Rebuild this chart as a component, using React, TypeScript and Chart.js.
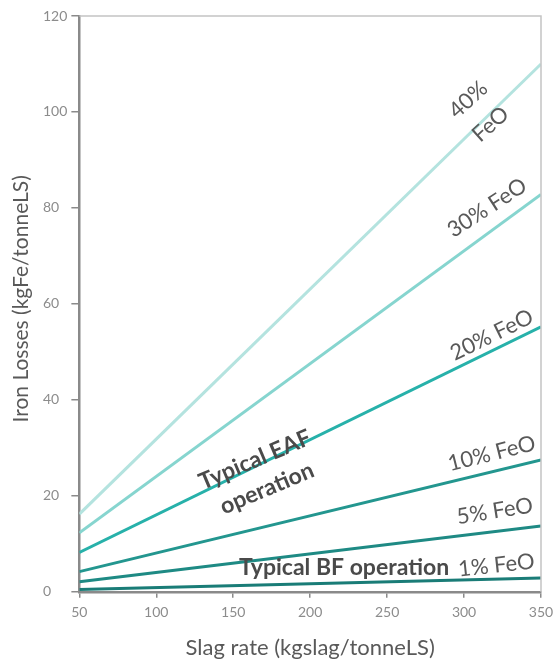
import React, { useEffect, useRef } from "react";
import { Chart, registerables } from "chart.js";

Chart.register(...registerables);

const slagRate = [50, 350];
const feo40 = [16.2, 110];
const feo30 = [12.3, 82.8];
const feo20 = [8.2, 55.2];
const feo10 = [4.2, 27.5];
const feo5 = [2.1, 13.7];
const feo1 = [0.5, 2.9];
const seriesLabels = ["40% FeO", "30% FeO", "20% FeO", "10% FeO", "5% FeO", "1% FeO"];
const seriesColors = ["#b4e3df", "#86d5cf", "#27b1aa", "#23968f", "#1e8a84", "#1a7c77"];

const xTitle = "Slag rate (kgslag/tonneLS)";
const yTitle = "Iron Losses (kgFe/tonneLS)";

const FONT = "Lato, 'Open Sans', sans-serif";

// annotation texts placed at data coordinates
const annotations: { lines: string[]; x: number; y: number; rot: number; bold: boolean; size: number; lh: number }[] = [
  { lines: ["40%", "FeO"], x: 310, y: 100, rot: -42, bold: false, size: 22, lh: 33 },
  { lines: ["30% FeO"], x: 315, y: 80, rot: -33, bold: false, size: 22, lh: 0 },
  { lines: ["20% FeO"], x: 318, y: 53.5, rot: -26, bold: false, size: 22, lh: 0 },
  { lines: ["10% FeO"], x: 318, y: 28.8, rot: -14, bold: false, size: 22, lh: 0 },
  { lines: ["5% FeO"], x: 320, y: 16.8, rot: -9, bold: false, size: 22, lh: 0 },
  { lines: ["1% FeO"], x: 321, y: 5.5, rot: -6, bold: false, size: 22, lh: 0 },
  { lines: ["Typical EAF", "operation"], x: 168, y: 24.5, rot: -23, bold: true, size: 23, lh: 31 },
  { lines: ["Typical BF operation"], x: 222, y: 5.0, rot: 0, bold: true, size: 23, lh: 0 },
];

export default function App() {
  const ref = useRef<HTMLCanvasElement | null>(null);
  useEffect(() => {
    if (!ref.current) return;
    const data = [feo40, feo30, feo20, feo10, feo5, feo1];
    const framePlugin = {
      id: "frame",
      afterDraw(chart: any) {
        const { ctx, chartArea, scales } = chart;
        ctx.save();
        ctx.strokeStyle = "#c4c4c4";
        ctx.lineWidth = 1.5;
        ctx.beginPath();
        ctx.moveTo(chartArea.left, chartArea.top);
        ctx.lineTo(chartArea.right, chartArea.top);
        ctx.lineTo(chartArea.right, chartArea.bottom);
        ctx.stroke();
        // y axis title
        ctx.save();
        ctx.translate(21, (chartArea.top + chartArea.bottom) / 2 - 5);
        ctx.rotate(-Math.PI / 2);
        ctx.font = "21px " + FONT;
        ctx.fillStyle = "#595959";
        ctx.textAlign = "center";
        ctx.textBaseline = "middle";
        ctx.fillText(yTitle, 0, 0);
        ctx.restore();
        for (const a of annotations) {
          const px = scales.x.getPixelForValue(a.x);
          const py = scales.y.getPixelForValue(a.y);
          ctx.save();
          ctx.translate(px, py);
          ctx.rotate((a.rot * Math.PI) / 180);
          ctx.font = (a.bold ? "bold " : "") + a.size + "px " + FONT;
          ctx.fillStyle = a.bold ? "#4a4a4a" : "#595959";
          ctx.textAlign = "center";
          ctx.textBaseline = "middle";
          a.lines.forEach((l, i) => {
            const off = (i - (a.lines.length - 1) / 2) * a.lh;
            ctx.fillText(l, 0, off);
          });
          ctx.restore();
        }
        ctx.restore();
      },
    };
    const chart = new Chart(ref.current, {
      type: "line",
      data: {
        datasets: seriesLabels.map((label, i) => ({
          label,
          data: slagRate.map((x, j) => ({ x, y: data[i][j] })),
          borderColor: seriesColors[i],
          borderWidth: 3,
          pointRadius: 0,
          fill: false,
          tension: 0,
        })),
      },
      options: {
        responsive: false,
        animation: false,
        layout: { padding: { top: 16, right: 0, left: 43, bottom: 1 } },
        plugins: { legend: { display: false }, tooltip: { enabled: false } },
        scales: {
          x: {
            type: "linear",
            min: 50,
            max: 350,
            afterFit: (s: any) => { s.paddingRight = 14; },
            ticks: { stepSize: 50, color: "#8c8c8c", font: { size: 14, family: FONT }, padding: 6 },
            grid: { drawOnChartArea: false, drawTicks: true, tickLength: 6, color: "#8a8a8a", lineWidth: 1.5 },
            border: { color: "#8a8a8a", width: 2.5 },
            title: { display: true, text: xTitle, color: "#595959", font: { size: 22, family: FONT }, padding: { top: 8, bottom: 0 } },
          },
          y: {
            min: 0,
            max: 120,
            ticks: { stepSize: 20, color: "#8c8c8c", font: { size: 14, family: FONT }, padding: 2, crossAlign: "far" },
            grid: { drawOnChartArea: false, drawTicks: true, tickLength: 8, color: "#8a8a8a", lineWidth: 1.5 },
            border: { color: "#8a8a8a", width: 2.5 },
            title: { display: false },
          },
        },
      },
      plugins: [framePlugin],
    });
    return () => chart.destroy();
  }, []);
  return (
    <div style={{ position: "fixed", left: 0, top: 0, width: 555, height: 662, background: "#fff" }}>
      <canvas ref={ref} width={555} height={662} />
    </div>
  );
}
